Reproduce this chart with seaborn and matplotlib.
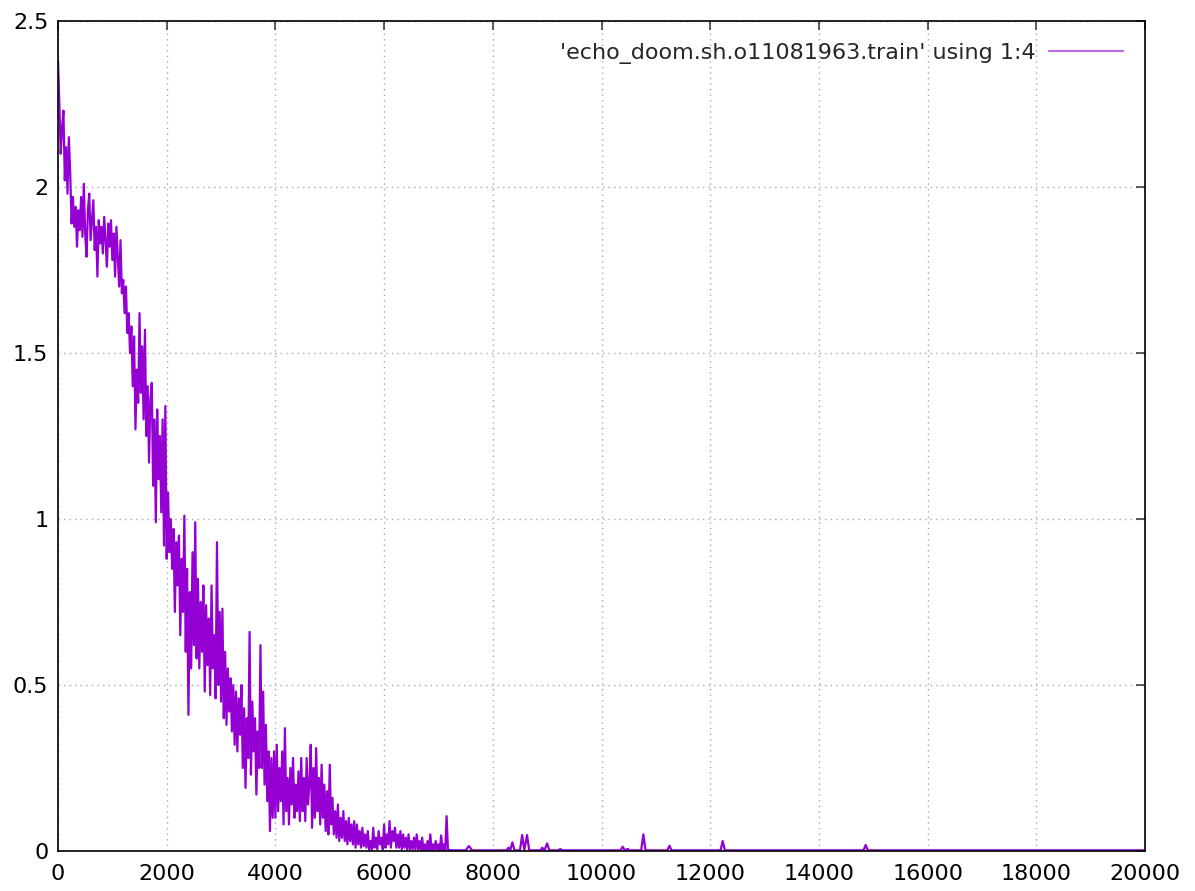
import numpy as np
import pandas as pd
import matplotlib
matplotlib.use("Agg")
import matplotlib.pyplot as plt
import seaborn as sns
from matplotlib.ticker import FormatStrFormatter

# loss column (1:4), one value every 25 steps from 0 to 7200
loss_head = [
    2.38, 2.25, 2.10, 2.18, 2.23, 2.02, 2.12, 1.98, 2.15, 2.04,
    1.89, 1.97, 1.88, 1.94, 1.82, 1.93, 1.87, 1.97, 1.85, 2.01,
    1.86, 1.79, 1.93, 1.98, 1.84, 1.90, 1.96, 1.81, 1.88, 1.73,
    1.90, 1.83, 1.88, 1.80, 1.91, 1.84, 1.76, 1.89, 1.82, 1.90,
    1.78, 1.86, 1.73, 1.88, 1.79, 1.70, 1.84, 1.68, 1.72, 1.62,
    1.70, 1.56, 1.62, 1.50, 1.58, 1.40, 1.55, 1.27, 1.45, 1.35,
    1.62, 1.38, 1.52, 1.30, 1.57, 1.25, 1.40, 1.17, 1.36, 1.41,
    1.10, 1.30, 0.99, 1.33, 1.12, 1.25, 1.02, 1.30, 0.92, 1.34,
    0.88, 1.08, 0.90, 1.00, 0.85, 0.97, 0.72, 0.93, 0.80, 0.95,
    0.65, 0.88, 0.72, 1.01, 0.60, 0.85, 0.41, 0.78, 0.55, 0.90,
    0.62, 0.99, 0.58, 0.82, 0.55, 0.75, 0.60, 0.80, 0.48, 0.74,
    0.56, 0.70, 0.47, 0.80, 0.55, 0.65, 0.46, 0.93, 0.50, 0.72,
    0.45, 0.73, 0.40, 0.60, 0.38, 0.55, 0.42, 0.52, 0.36, 0.50,
    0.32, 0.48, 0.30, 0.46, 0.35, 0.50, 0.25, 0.43, 0.19, 0.40,
    0.28, 0.66, 0.23, 0.45, 0.30, 0.40, 0.17, 0.36, 0.25, 0.62,
    0.25, 0.48, 0.20, 0.38, 0.15, 0.30, 0.06, 0.28, 0.10, 0.30,
    0.10, 0.32, 0.12, 0.25, 0.15, 0.30, 0.08, 0.37, 0.12, 0.22,
    0.08, 0.25, 0.14, 0.28, 0.10, 0.20, 0.12, 0.24, 0.09, 0.28,
    0.12, 0.22, 0.09, 0.28, 0.14, 0.20, 0.32, 0.07, 0.25, 0.10,
    0.31, 0.12, 0.22, 0.08, 0.26, 0.10, 0.20, 0.06, 0.18, 0.05,
    0.26, 0.08, 0.16, 0.05, 0.12, 0.04, 0.14, 0.03, 0.10, 0.04,
    0.12, 0.03, 0.09, 0.02, 0.10, 0.03, 0.08, 0.02, 0.09, 0.01,
    0.08, 0.02, 0.06, 0.01, 0.07, 0.015, 0.05, 0.01, 0.06, 0.005,
    0.03, 0.005, 0.07, 0.01, 0.04, 0.005, 0.06, 0.02, 0.04, 0.005,
    0.08, 0.01, 0.05, 0.02, 0.09, 0.01, 0.06, 0.03, 0.07, 0.01,
    0.05, 0.01, 0.06, 0.005, 0.05, 0.01, 0.04, 0.005, 0.05, 0.005,
    0.03, 0.005, 0.04, 0.005, 0.05, 0.005, 0.03, 0.003, 0.04, 0.003,
    0.02, 0.003, 0.03, 0.003, 0.05, 0.003, 0.02, 0.003, 0.03, 0.003,
    0.02, 0.003, 0.047, 0.003, 0.02, 0.003, 0.105, 0.003, 0.003,
]
steps_head = np.arange(len(loss_head)) * 25

# after ~7200 the loss sits on zero with a few isolated spikes
steps_tail = [7250, 7500, 7560, 7620, 8250, 8290, 8320, 8360, 8400, 8500,
              8540, 8580, 8630, 8670, 8880, 8910, 8950, 9000, 9040, 9200,
              9240, 9280, 10350, 10390, 10430, 10480, 10520, 10730, 10770, 10810,
              11210, 11250, 11290, 12190, 12230, 12270, 14820, 14860, 14900, 20000]
loss_tail = [0.002, 0.002, 0.015, 0.002, 0.002, 0.010, 0.002, 0.026, 0.002, 0.002,
             0.048, 0.003, 0.048, 0.002, 0.002, 0.010, 0.002, 0.023, 0.002, 0.002,
             0.006, 0.002, 0.002, 0.013, 0.002, 0.006, 0.002, 0.002, 0.050, 0.002,
             0.002, 0.016, 0.002, 0.002, 0.030, 0.002, 0.002, 0.018, 0.002, 0.002]

x_ticks = list(range(0, 20001, 2000))
y_ticks = [0, 0.5, 1, 1.5, 2, 2.5]
label = "'echo_doom.sh.o11081963.train' using 1:4"

df = pd.DataFrame({
    "step": np.concatenate([steps_head, steps_tail]),
    "loss": np.concatenate([loss_head, loss_tail]),
})

sns.set_style("white")
plt.rcParams["font.family"] = ["DejaVu Sans"]

fig = plt.figure(figsize=(11.95, 8.91), dpi=100)
ax = fig.add_axes([58 / 1195, 1 - 851 / 891, (1145 - 58) / 1195, (851 - 21) / 891])

sns.lineplot(data=df, x="step", y="loss", estimator=None, sort=False,
             color="#9400d3", linewidth=1.6, label=label, ax=ax)

ax.set_xlim(0, 20000)
ax.set_ylim(0, 2.5)
ax.set_xticks(x_ticks)
ax.set_yticks(y_ticks)
ax.yaxis.set_major_formatter(FormatStrFormatter("%g"))
ax.set_xlabel("")
ax.set_ylabel("")

ax.grid(True, color="#a8a8a8", linestyle=(0, (1, 3)), linewidth=1.0)
ax.set_axisbelow(True)
for sp in ax.spines.values():
    sp.set_color("black")
    sp.set_linewidth(1.2)
    sp.set_visible(True)

ax.tick_params(direction="in", length=6.5, width=1.1, color="#303030",
               top=True, right=True, labelsize=16, labelcolor="black")
ax.tick_params(axis="x", pad=9)
ax.tick_params(axis="y", pad=7)

leg = ax.legend(loc="upper right", frameon=False, markerfirst=False,
                fontsize=16, handlelength=3.3, handletextpad=0.6,
                borderaxespad=0.6)
for ln in leg.get_lines():
    ln.set_alpha(0.6)
    ln.set_linewidth(1.5)

fig.savefig("out.png", dpi=100)
